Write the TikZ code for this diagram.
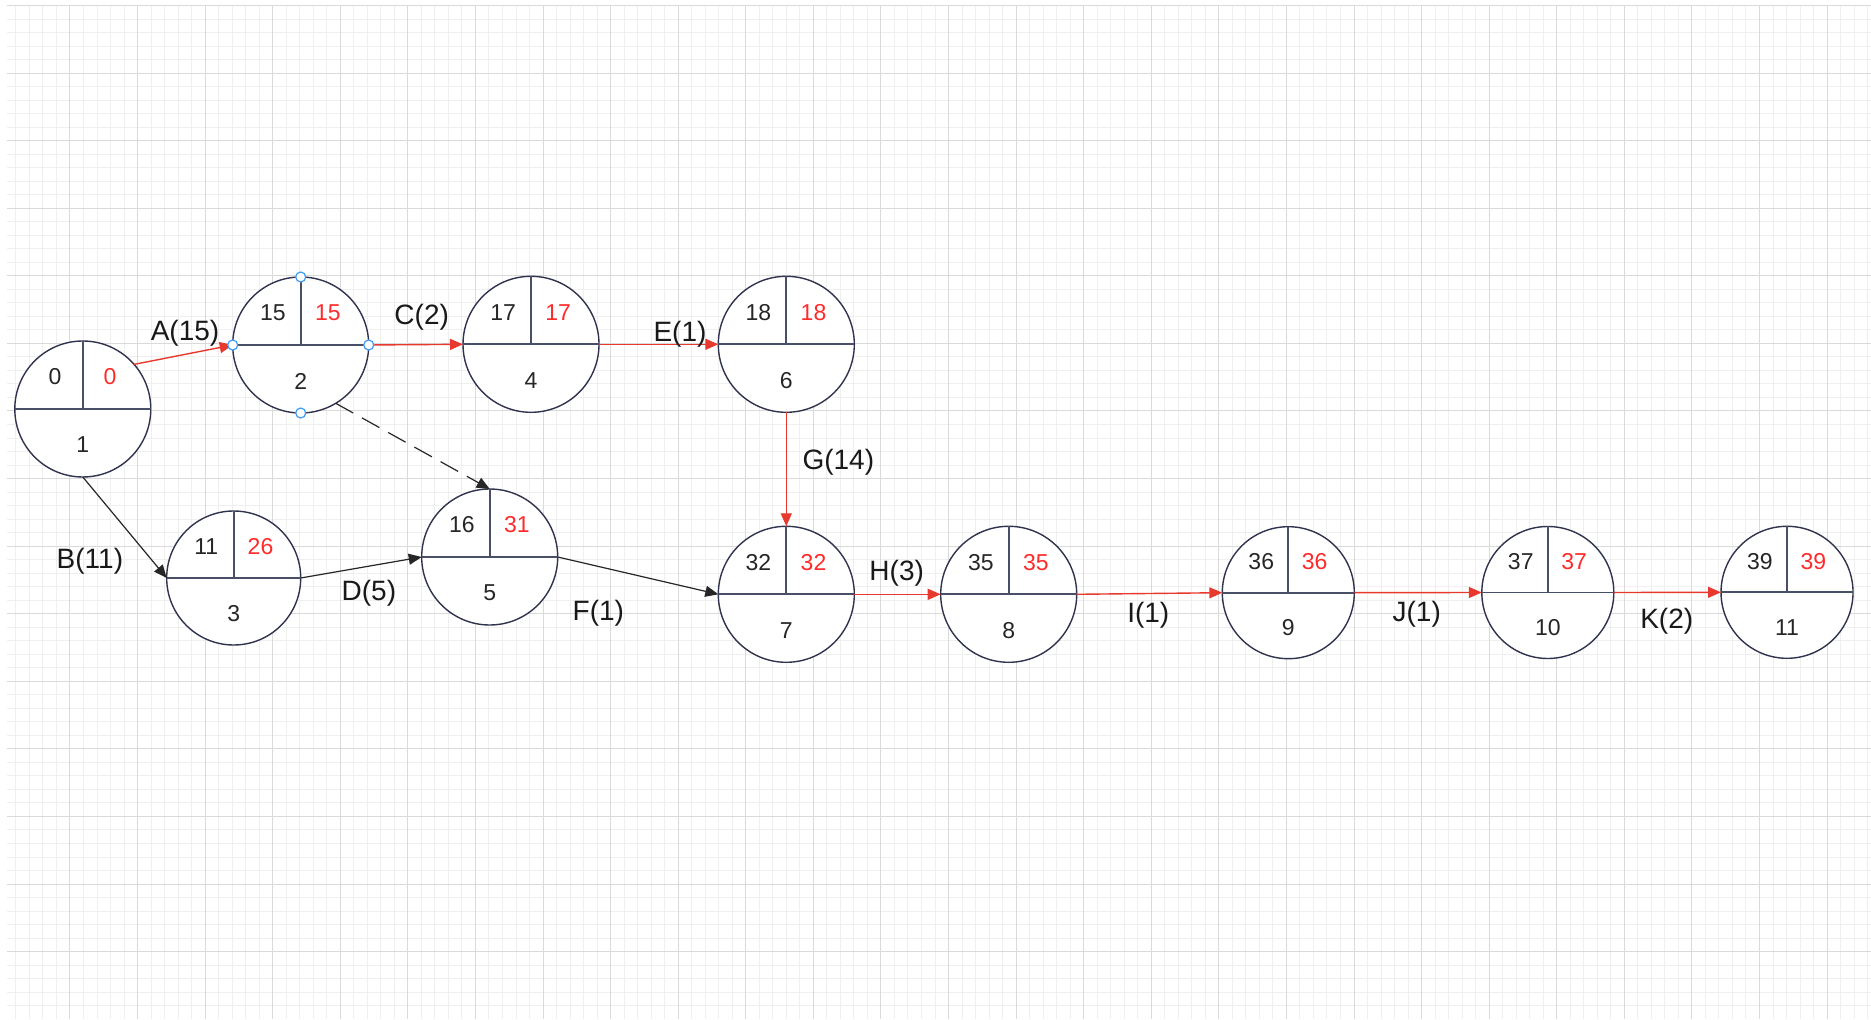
\documentclass[tikz,border=0pt]{standalone}
\usepackage{fontspec}
\setmainfont{Liberation Sans}
\usetikzlibrary{arrows.meta,calc}
\definecolor{navy}{HTML}{30334F}
\definecolor{splitgrey}{HTML}{4A4F68}
\definecolor{critred}{HTML}{E8392F}
\definecolor{latered}{HTML}{FF2B2B}
\definecolor{gridminor}{HTML}{EFEFEF}
\definecolor{gridmajor}{HTML}{DADADA}
\definecolor{handleblue}{HTML}{3D9BF4}
\tikzset{
  event/.style={circle, draw=navy, fill=white, line width=0.7pt, inner sep=0pt, outer sep=0pt},
  divider/.style={draw=splitgrey, line width=0.9pt},
  num/.style={font=\fontsize{11.5}{13}\selectfont, text=black!85, inner sep=0pt},
  lbl/.style={font=\fontsize{14}{16}\selectfont, text=black!90, inner sep=0pt},
  crit/.style={-{Triangle[length=6.5pt,width=5.5pt]}, critred, line width=0.7pt},
  act/.style={-{Triangle[length=6.5pt,width=5.5pt]}, black!85, line width=0.6pt},
  dummy/.style={act, dash pattern=on 10pt off 5pt},
  handle/.style={draw=handleblue, fill=white, line width=0.6pt},
}

\begin{document}
\begin{tikzpicture}[x=0.5pt, y=-0.5pt]
  \useasboundingbox (0,0) rectangle (1871,1020);
  \fill[white] (0,0) rectangle (1871,1020);
  % background grid
  \begin{scope}
    \clip (7,5.5) rectangle (1871,1018.5);
    \draw[gridminor, line width=0.5pt, step=6.758pt, shift={(2.4,5.5)}] (0,0) grid (1880,1020);
    \draw[gridmajor, line width=0.5pt, step=33.79pt, shift={(2.4,5.5)}] (0,0) grid (1880,1020);
  \end{scope}
  % events: number / x / y / radius / earliest / latest
  \foreach \n/\x/\y/\r/\es/\ls in {1/82.8/409/68/0/0, 2/300.7/345/68/15/15, 3/233.7/578/67/11/26,
                                   4/531/344.3/68/17/17, 5/489.7/557/68/16/31, 6/786.3/344.3/68/18/18,
                                   7/786.3/594.3/68/32/32, 8/1008.7/594.3/68/35/35, 9/1288.3/592.7/66/36/36,
                                   10/1547.8/592.5/66/37/37, 11/1787/592.3/66/39/39}
    { \node[event, minimum size=\r pt] (n\n) at (\x,\y) {};
      \draw[divider] (n\n.west) -- (n\n.east) (n\n.north) -- (n\n.center);
      \node[num] (es\n) at ($(n\n)+(-0.41*\r,-0.47*\r)$) {\es};
      \node[num, text=latered] (ls\n) at ($(n\n)+(0.40*\r,-0.47*\r)$) {\ls};
      \node[num] (id\n) at ($(n\n)+(0,0.53*\r)$) {\n}; }
  % activities
  \draw[crit] (n1.41) -- (n2.west);
  \foreach \a/\b in {2/4, 4/6, 7/8, 8/9, 9/10, 10/11}
    \draw[crit] (n\a.east) -- (n\b.west);
  \draw[crit] (n6.south) -- (n7.north);
  \draw[act] (n1.south) -- (n3.west);
  \draw[act] (n3.east) -- (n5.west);
  \draw[act] (n5.east) -- (n7.west);
  \draw[dummy] (n2.-59.5) -- (n5.north);
  \foreach \k/\t/\x/\y in {a/A(15)/185/333.3, b/B(11)/89.9/561, c/C(2)/421.7/317.3, d/D(5)/368.9/593,
                           e/E(1)/680/334, f/F(1)/598.3/613.3, g/G(14)/838.3/462.7, h/H(3)/896.7/573.3,
                           i/I(1)/1148.3/615, j/J(1)/1416.7/614.3, k/K(2)/1666.7/621.7}
    \node[lbl] (lab\k) at (\x,\y) {\t};
  % selection handles
  \foreach \p in {north, south, east, west}
    \draw[handle] (n2.\p) circle[radius=5];
\end{tikzpicture}
\end{document}
